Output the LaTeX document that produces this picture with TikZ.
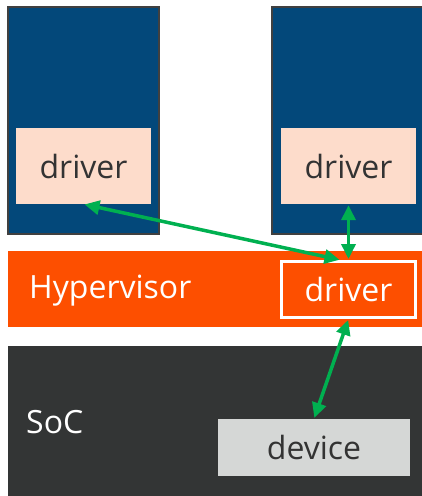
\documentclass[tikz,border=0pt]{standalone}
\usepackage{fontspec}
\setmainfont{Open Sans}
\usetikzlibrary{arrows.meta}
\definecolor{vmblue}{HTML}{03487A}
\definecolor{vmedge}{HTML}{404040}
\definecolor{drvfill}{HTML}{FDDCCB}
\definecolor{hvorange}{HTML}{FD4F00}
\definecolor{socgrey}{HTML}{333535}
\definecolor{devgrey}{HTML}{D5D7D6}
\definecolor{txtgrey}{HTML}{333333}
\definecolor{link}{HTML}{00B050}
\tikzset{
  bigtext/.style={font=\fontsize{32}{36}\selectfont},
  vmbox/.style={draw=vmedge, line width=1.5pt, fill=vmblue},
  drvbox/.style={fill=drvfill, text=txtgrey, minimum width=135pt, minimum height=76pt, inner sep=0pt, bigtext},
  label/.style={bigtext, inner sep=0pt},
  linkarrow/.style={draw=link, line width=3.5pt, {Triangle[length=15pt,width=14pt]}-{Triangle[length=15pt,width=14pt]}, shorten <=1pt, shorten >=1pt}
}
\begin{document}
\begin{tikzpicture}[x=1pt, y=-1pt]
  \clip (0,0) rectangle (422,496);
  \fill[white] (0,0) rectangle (422,496);
  % guest machines
  \draw[vmbox] (8,7) rectangle (159,234);
  \draw[vmbox] (272,7) rectangle (440,234);
  \node[drvbox] (ld) at (83.5,166) {driver};
  \node[drvbox] (rd) at (348.5,166) {driver};
  % hypervisor layer
  \fill[hvorange] (8,251) rectangle (440,327);
  \node[label, text=white, anchor=west] (hv) at (29,291) {Hypervisor};
  \node[draw=white, line width=3pt, fill=hvorange, text=white, minimum width=134pt, minimum height=56pt, inner sep=0pt, bigtext] (hd) at (348.5,289.5) {driver};
  % SoC layer
  \fill[socgrey] (8,346) rectangle (440,500);
  \node[label, text=white, anchor=west] (soc) at (26,422) {SoC};
  \node[fill=devgrey, text=txtgrey, minimum width=192pt, minimum height=57pt, inner sep=0pt, bigtext] (dev) at (314,447.5) {device};
  % links between drivers and device
  \draw[linkarrow] (ld.south) -- ([xshift=-8pt]hd.north);
  \draw[linkarrow] (rd.south) -- (hd.north);
  \draw[linkarrow] (hd.south) -- (dev.north);
\end{tikzpicture}
\end{document}
